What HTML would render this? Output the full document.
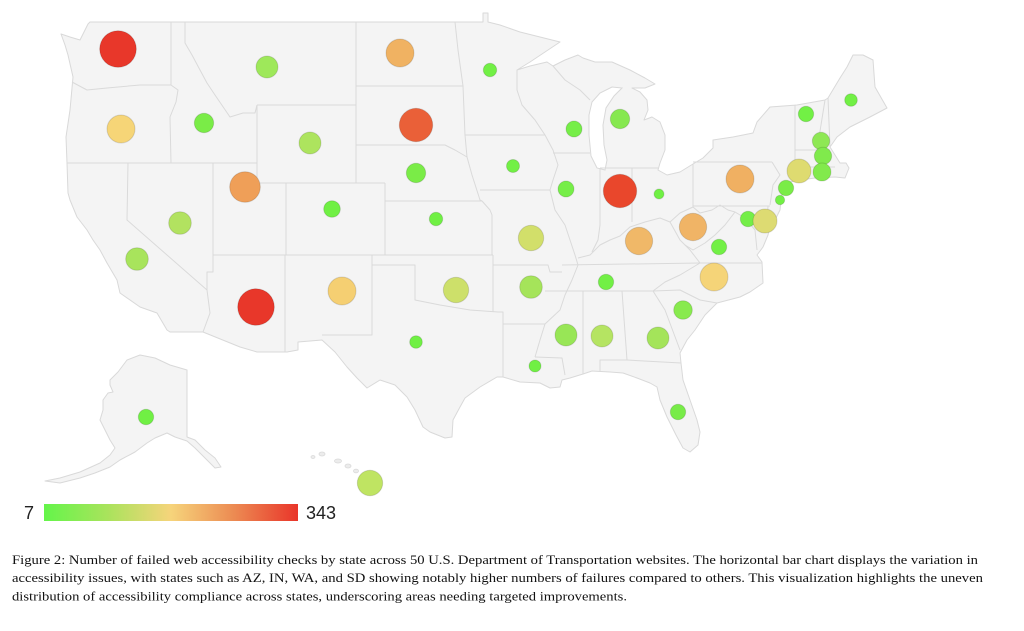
<!DOCTYPE html>
<html><head><meta charset="utf-8"><style>
html,body{margin:0;padding:0;background:#fff;}
svg{display:block;}
</style></head><body>
<svg width="1024" height="631" viewBox="0 0 1024 631" xmlns="http://www.w3.org/2000/svg">
<defs>
<linearGradient id="lg" x1="0" x2="1" y1="0" y2="0">
<stop offset="0" stop-color="#64f54a"/>
<stop offset="0.25" stop-color="#a9e35c"/>
<stop offset="0.5" stop-color="#f6d47b"/>
<stop offset="0.75" stop-color="#ec8a52"/>
<stop offset="1" stop-color="#e9352a"/>
</linearGradient>
</defs>
<rect width="1024" height="631" fill="#fff"/>
<!-- Lower 48 -->
<polygon fill="#f4f4f4" stroke="#d9d9d9" stroke-width="1" stroke-linejoin="round" points="61,34 70,37 80,40 84,32 88,24 90,22 483,22 483,13 488,13 488,22 500,25 520,32 540,37 560,42 545,52 530,62 517,70 530,66 547,62 553,66 565,60 578,55 583,58 595,62 612,62 630,70 645,78 655,84 645,88 632,88 640,92 647,100 648,110 644,120 652,117 660,122 665,135 665,150 660,163 658,170 667,175 680,172 693,164 703,158 713,148 713,140 733,137 753,133 757,122 770,107 797,105 825,100 828,98 840,78 847,67 853,55 863,55 873,60 875,87 887,108 870,117 850,127 837,137 830,147 835,155 840,163 846,163 849,168 845,178 835,177 815,178 800,180 790,182 787,184 783,190 781,200 780,210 775,220 770,227 768,235 763,247 757,255 762,262 763,283 750,292 740,297 717,303 705,315 695,330 687,340 680,353 681,363 683,380 690,400 697,420 700,432 698,445 690,452 683,448 676,435 667,417 660,400 657,387 650,383 637,378 623,373 610,372 592,371 583,374 570,378 562,380 560,387 550,388 540,383 520,382 503,377 497,377 480,387 465,398 460,407 453,420 452,437 445,438 430,432 423,427 415,410 407,397 395,385 380,380 367,388 357,378 347,367 335,352 322,340 298,342 298,350 287,352 257,352 240,347 203,332 170,332 167,330 157,313 140,307 120,293 117,280 107,263 100,250 93,240 87,230 77,217 70,200 68,193 67,163 66,137 70,110 73,77 68,55 65,45"/>
<!-- Lake Michigan -->
<polygon fill="#fff" stroke="#d9d9d9" stroke-width="1" points="592,102 600,93 612,87 622,88 614,96 606,108 603,125 604,145 607,160 605,170 597,168 591,156 589,135 589,115"/>
<!-- state borders -->
<g fill="none" stroke="#dadada" stroke-width="1" stroke-linejoin="round">
<polyline points="72,82 87,90 107,88 140,85 171,85"/>
<polyline points="171,22 171,85"/>
<polyline points="171,85 178,90 176,102 170,117 171,163"/>
<polyline points="67,163 257,163"/>
<polyline points="185,22 185,43 192,55 200,70 207,83 215,95 230,117 243,113 255,113 257,105"/>
<polyline points="257,105 356,105"/>
<polyline points="257,105 257,183"/>
<polyline points="257,183 385,183"/>
<polyline points="286,183 286,255"/>
<polyline points="385,183 385,255"/>
<polyline points="213,255 493,255"/>
<polyline points="213,163 213,272 207,272 207,290"/>
<polyline points="128,163 127,220 207,290 210,313 203,332"/>
<polyline points="285,255 285,352"/>
<polyline points="372,255 372,335 322,335"/>
<polyline points="372,265 415,265 415,300 440,305 470,310 498,312 503,312 503,377"/>
<polyline points="493,255 493,312"/>
<polyline points="356,22 356,183"/>
<polyline points="356,86 463,86"/>
<polyline points="356,145 445,145 455,150 467,157"/>
<polyline points="385,201 482,201"/>
<polyline points="465,135 467,157 472,175 480,200 482,201 490,210 492,215 492,255"/>
<polyline points="455,22 458,50 463,86 465,135"/>
<polyline points="465,135 545,135"/>
<polyline points="480,190 550,190"/>
<polyline points="517,70 517,90 522,105 535,120 545,135 553,150 558,165 553,180 550,190 555,210 565,225 570,240 575,255 578,265 572,280 565,295 560,310 545,324 540,340 535,357"/>
<polyline points="553,153 590,153"/>
<polyline points="553,66 565,80 580,90 590,100"/>
<polyline points="600,168 658,168"/>
<polyline points="600,168 600,225 598,240 592,252"/>
<polyline points="632,168 632,222"/>
<polyline points="578,258 590,255 600,245 610,240 620,236 630,227 645,222 660,218 670,222 680,213 693,207"/>
<polyline points="693,164 693,207"/>
<polyline points="693,162 772,162"/>
<polyline points="772,162 780,175 773,185 770,205"/>
<polyline points="693,206 770,206"/>
<polyline points="693,207 700,213 712,210 720,205 728,210 735,212 725,225 715,235 705,243 693,250 685,245"/>
<polyline points="670,222 680,240 690,250 700,263"/>
<polyline points="562,265 700,263 762,263"/>
<polyline points="493,265 548,265 550,272 562,272"/>
<polyline points="545,291 653,291"/>
<polyline points="653,291 665,282 680,275 700,263"/>
<polyline points="503,324 545,324"/>
<polyline points="583,291 583,374"/>
<polyline points="622,291 627,360"/>
<polyline points="600,371 600,360 627,360 681,363"/>
<polyline points="535,357 562,358 565,375"/>
<polyline points="653,291 665,310 680,350"/>
<polyline points="653,291 680,290 700,300 717,303"/>
<polyline points="795,105 795,178"/>
<polyline points="825,100 817,150"/>
<polyline points="828,98 830,147"/>
<polyline points="795,150 830,150"/>
<polyline points="795,167 835,167"/>
<polyline points="820,167 820,177"/>
<polyline points="768,206 767,227"/>
<polyline points="735,212 745,218 755,230 757,250"/>
</g>
<!-- Alaska -->
<polygon fill="#f4f4f4" stroke="#d9d9d9" stroke-width="1" stroke-linejoin="round" points="127,360 140,355 155,358 170,365 187,370 187,437 195,440 205,450 215,458 221,467 215,468 205,458 195,448 187,441 175,437 167,433 155,438 147,443 135,452 120,460 110,467 95,473 80,478 60,483 45,481 60,478 80,472 100,463 110,455 115,448 110,440 105,430 100,420 103,410 103,400 108,393 113,392 110,385 110,380 118,372"/>
<!-- Hawaii -->
<g fill="#ececec" stroke="#dadada" stroke-width="0.8">
<ellipse cx="313" cy="457" rx="2" ry="1.5"/>
<ellipse cx="322" cy="454" rx="3" ry="2"/>
<ellipse cx="338" cy="461" rx="3.5" ry="2"/>
<ellipse cx="348" cy="466" rx="3" ry="2"/>
<ellipse cx="356" cy="471" rx="2.5" ry="1.8"/>
<ellipse cx="370" cy="484" rx="9" ry="8"/>
</g>
<!-- bubbles -->
<g stroke="rgba(0,0,0,0.13)" stroke-width="1">
<circle cx="118" cy="49" r="18.3" fill="#e8372a"/>
<circle cx="267" cy="67" r="11" fill="#9ee85a"/>
<circle cx="400" cy="53" r="14" fill="#f0b262"/>
<circle cx="490" cy="70" r="6.7" fill="#72f045"/>
<circle cx="121" cy="129" r="14" fill="#f6d577"/>
<circle cx="204" cy="123" r="9.7" fill="#7aec47"/>
<circle cx="310" cy="143" r="11" fill="#ade45e"/>
<circle cx="416" cy="125" r="16.7" fill="#ea6038"/>
<circle cx="416" cy="173" r="9.7" fill="#7aec47"/>
<circle cx="513" cy="166" r="6.5" fill="#72f045"/>
<circle cx="245" cy="187" r="15.3" fill="#ef9f58"/>
<circle cx="332" cy="209" r="8.3" fill="#70f044"/>
<circle cx="436" cy="219" r="6.7" fill="#70f044"/>
<circle cx="180" cy="223" r="11.3" fill="#b2e260"/>
<circle cx="137" cy="259" r="11.3" fill="#a8e45c"/>
<circle cx="256" cy="307" r="18.3" fill="#e8372a"/>
<circle cx="342" cy="291" r="14" fill="#f5cf72"/>
<circle cx="456" cy="290" r="12.7" fill="#cde06a"/>
<circle cx="416" cy="342" r="6.3" fill="#70f044"/>
<circle cx="574" cy="129" r="8" fill="#76ee48"/>
<circle cx="620" cy="119" r="9.7" fill="#86e850"/>
<circle cx="566" cy="189" r="8" fill="#76ee48"/>
<circle cx="620" cy="191" r="16.7" fill="#e9472c"/>
<circle cx="659" cy="194" r="5" fill="#70f044"/>
<circle cx="740" cy="179" r="14" fill="#f0b062"/>
<circle cx="806" cy="114" r="7.7" fill="#72f045"/>
<circle cx="851" cy="100" r="6.3" fill="#72f045"/>
<circle cx="821" cy="141" r="8.7" fill="#8ee854"/>
<circle cx="823" cy="156" r="8.7" fill="#80ea4c"/>
<circle cx="822" cy="172" r="9" fill="#82ea4c"/>
<circle cx="799" cy="171" r="12" fill="#dedb70"/>
<circle cx="786" cy="188" r="7.7" fill="#7aec47"/>
<circle cx="780" cy="200" r="4.7" fill="#72f045"/>
<circle cx="748" cy="219" r="7.7" fill="#74ee48"/>
<circle cx="765" cy="221" r="12" fill="#dddb72"/>
<circle cx="531" cy="238" r="12.7" fill="#d2df6a"/>
<circle cx="639" cy="241" r="13.7" fill="#f0b868"/>
<circle cx="693" cy="227" r="13.7" fill="#f0b466"/>
<circle cx="719" cy="247" r="7.7" fill="#72f045"/>
<circle cx="714" cy="277" r="14" fill="#f5d478"/>
<circle cx="531" cy="287" r="11.3" fill="#a5e45a"/>
<circle cx="606" cy="282" r="7.7" fill="#72f045"/>
<circle cx="683" cy="310" r="9.3" fill="#88ea4e"/>
<circle cx="566" cy="335" r="11" fill="#98e656"/>
<circle cx="602" cy="336" r="11" fill="#b5e462"/>
<circle cx="658" cy="338" r="11" fill="#a4e45a"/>
<circle cx="535" cy="366" r="6" fill="#70f044"/>
<circle cx="678" cy="412" r="7.7" fill="#78ec48"/>
<circle cx="146" cy="417" r="7.7" fill="#70f044"/>
<circle cx="370" cy="483" r="12.7" fill="#bfe462"/>
</g>
<!-- legend -->
<rect x="44" y="504" width="254" height="17" fill="url(#lg)"/>
<text x="24" y="519" font-family="Liberation Sans, Arial, sans-serif" font-size="18" fill="#222">7</text>
<text x="306" y="519" font-family="Liberation Sans, Arial, sans-serif" font-size="18" fill="#222">343</text>
<!-- caption -->
<g font-family="Liberation Serif, Times New Roman, serif" font-size="13" fill="#111">
<text x="12" y="564" textLength="966" lengthAdjust="spacingAndGlyphs">Figure 2: Number of failed web accessibility checks by state across 50 U.S. Department of Transportation websites. The horizontal bar chart displays the variation in</text>
<text x="12" y="582" textLength="971" lengthAdjust="spacingAndGlyphs">accessibility issues, with states such as AZ, IN, WA, and SD showing notably higher numbers of failures compared to others. This visualization highlights the uneven</text>
<text x="12" y="600.5" textLength="615" lengthAdjust="spacingAndGlyphs">distribution of accessibility compliance across states, underscoring areas needing targeted improvements.</text>
</g>
</svg>
</body></html>
